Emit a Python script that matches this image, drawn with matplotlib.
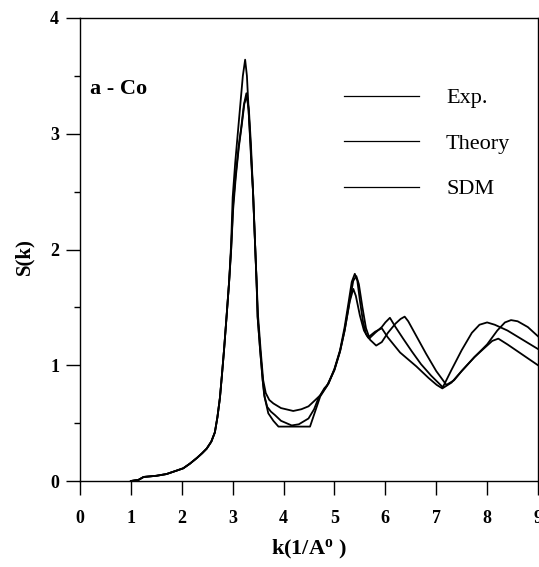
import matplotlib
matplotlib.use("Agg")
import matplotlib.pyplot as plt
from matplotlib.ticker import MultipleLocator

# ---- data ----
base_x = [1.0, 1.15, 1.25, 1.5, 1.7, 1.9, 2.03, 2.16, 2.3, 2.4, 2.49, 2.58, 2.65, 2.7, 2.75, 2.79, 2.83, 2.88, 2.93]
base_y = [0.0, 0.01, 0.035, 0.045, 0.06, 0.09, 0.11, 0.15, 0.2, 0.24, 0.28, 0.34, 0.42, 0.55, 0.72, 0.92, 1.13, 1.42, 1.72]

exp_x = base_x + [2.97, 3.01, 3.06, 3.12, 3.17, 3.22, 3.27, 3.31, 3.35, 3.4, 3.44, 3.47, 3.49, 3.54, 3.59,
                  3.63, 3.70, 3.8, 3.9, 4.2, 4.52, 4.62, 4.72, 4.88, 5.0, 5.11, 5.2, 5.28, 5.34, 5.40,
                  5.45, 5.5, 5.56, 5.62, 5.68, 5.8, 5.93, 6.0, 6.09, 6.2, 6.35, 6.52, 6.7, 6.9, 7.13,
                  7.3, 7.5, 7.7, 7.85, 8.0, 8.15, 8.4, 8.7, 9.0]
exp_y = base_y + [2.0, 2.4, 2.65, 2.9, 3.06, 3.25, 3.35, 3.22, 2.92, 2.5, 2.05, 1.72, 1.42, 1.13, 0.87,
                  0.72, 0.585, 0.52, 0.47, 0.47, 0.47, 0.6, 0.73, 0.84, 0.97, 1.13, 1.33, 1.55, 1.72, 1.79,
                  1.73, 1.56, 1.38, 1.27, 1.23, 1.28, 1.33, 1.37, 1.41, 1.33, 1.23, 1.12, 1.01, 0.91, 0.81,
                  0.96, 1.13, 1.28, 1.35, 1.37, 1.35, 1.3, 1.22, 1.14]

theory_x = base_x + [2.97, 3.0, 3.05, 3.1, 3.15, 3.2, 3.245, 3.28, 3.32, 3.36, 3.4, 3.44, 3.47, 3.49, 3.54, 3.59,
                     3.62, 3.68, 3.75, 3.83, 3.95, 4.16, 4.3, 4.49, 4.6, 4.68, 4.8, 4.88, 5.0, 5.11, 5.2, 5.3, 5.37,
                     5.43, 5.48, 5.55, 5.62, 5.7, 5.82, 5.93, 6.05, 6.2, 6.3, 6.38, 6.45, 6.6, 6.8, 7.0, 7.2,
                     7.35, 7.5, 7.75, 8.0, 8.2, 8.35, 8.47, 8.6, 8.8, 9.0]
theory_y = base_y + [2.05, 2.45, 2.75, 3.0, 3.25, 3.5, 3.64, 3.5, 3.15, 2.8, 2.5, 2.05, 1.72, 1.42, 1.13, 0.87,
                     0.74, 0.64, 0.6, 0.57, 0.52, 0.48, 0.49, 0.54, 0.62, 0.71, 0.8, 0.84, 0.96, 1.12, 1.3, 1.56, 1.73,
                     1.77, 1.7, 1.5, 1.32, 1.22, 1.17, 1.2, 1.28, 1.36, 1.4, 1.42, 1.38, 1.26, 1.1, 0.95, 0.83,
                     0.87, 0.95, 1.07, 1.18, 1.3, 1.37, 1.39, 1.38, 1.33, 1.25]

sdm_x = base_x + [2.97, 3.01, 3.06, 3.12, 3.18, 3.23, 3.28, 3.32, 3.36, 3.4, 3.44, 3.47, 3.5, 3.55, 3.6,
                  3.65, 3.72, 3.8, 3.95, 4.19, 4.35, 4.49, 4.6, 4.72, 4.85, 5.0, 5.11, 5.2, 5.3, 5.37,
                  5.42, 5.5, 5.58, 5.66, 5.8, 5.93, 6.05, 6.29, 6.61, 6.85, 7.01, 7.12, 7.3, 7.5, 7.75,
                  8.0, 8.1, 8.22, 8.4, 8.7, 9.0]
sdm_y = base_y + [2.0, 2.35, 2.62, 2.88, 3.08, 3.26, 3.33, 3.2, 2.9, 2.5, 2.05, 1.72, 1.42, 1.13, 0.87,
                  0.76, 0.70, 0.67, 0.63, 0.605, 0.62, 0.645, 0.69, 0.74, 0.82, 0.96, 1.12, 1.3, 1.55, 1.66,
                  1.6, 1.43, 1.3, 1.24, 1.29, 1.32, 1.24, 1.11, 0.99, 0.89, 0.83, 0.80, 0.85, 0.95, 1.07,
                  1.17, 1.21, 1.23, 1.18, 1.09, 1.0]

labels = ["Exp.", "Theory", "SDM"]
x_ticks = [0, 1, 2, 3, 4, 5, 6, 7, 8, 9]
y_ticks = [0, 1, 2, 3, 4]

# ---- style ----
plt.rcParams['font.family'] = ['Liberation Serif', 'DejaVu Serif']
plt.rcParams['mathtext.fontset'] = 'custom'
plt.rcParams['mathtext.rm'] = 'Liberation Serif:bold'
plt.rcParams['mathtext.bf'] = 'Liberation Serif:bold'
plt.rcParams['mathtext.it'] = 'Liberation Serif:bold'

fig = plt.figure(figsize=(5.39, 5.67), dpi=100)
ax = fig.add_axes([80 / 539, 1 - 481 / 567, 458 / 539, 463 / 567])

lw = 1.3
ax.plot(exp_x, exp_y, color='black', lw=lw, label=labels[0])
ax.plot(theory_x, theory_y, color='black', lw=lw, label=labels[1])
ax.plot(sdm_x, sdm_y, color='black', lw=lw, label=labels[2])

ax.set_xlim(0, 9)
ax.set_ylim(0, 4)
ax.set_xticks(x_ticks)
ax.set_yticks(y_ticks)
ax.yaxis.set_minor_locator(MultipleLocator(0.5))

for sp in ax.spines.values():
    sp.set_linewidth(1.0)
    sp.set_color('black')

ax.tick_params(axis='both', which='major', direction='out', length=10, width=1.0,
               labelsize=13, colors='black')
ax.tick_params(axis='x', which='major', pad=11)
ax.tick_params(axis='y', which='major', pad=5)
ax.tick_params(axis='y', which='minor', direction='out', length=4.5, width=1.0)
for lab in ax.get_xticklabels() + ax.get_yticklabels():
    lab.set_fontweight('bold')

ax.set_xlabel(r'k(1/A$^{\mathrm{o}}$ )', fontsize=16, fontweight='bold', labelpad=8)
ax.set_ylabel('S(k)', fontsize=15, fontweight='bold')
ax.yaxis.set_label_coords(-0.10, 0.484)

ax.text(0.2, 3.34, 'a - Co', fontsize=16, fontweight='bold', va='baseline', ha='left')

leg = ax.legend(loc='upper left', bbox_to_anchor=(0.576, 0.849), frameon=False,
                fontsize=16, handlelength=3.4, handletextpad=1.2, labelspacing=1.12,
                borderpad=0, borderaxespad=0)
for line in leg.get_lines():
    line.set_linewidth(0.9)

fig.savefig('out.png', dpi=100)
